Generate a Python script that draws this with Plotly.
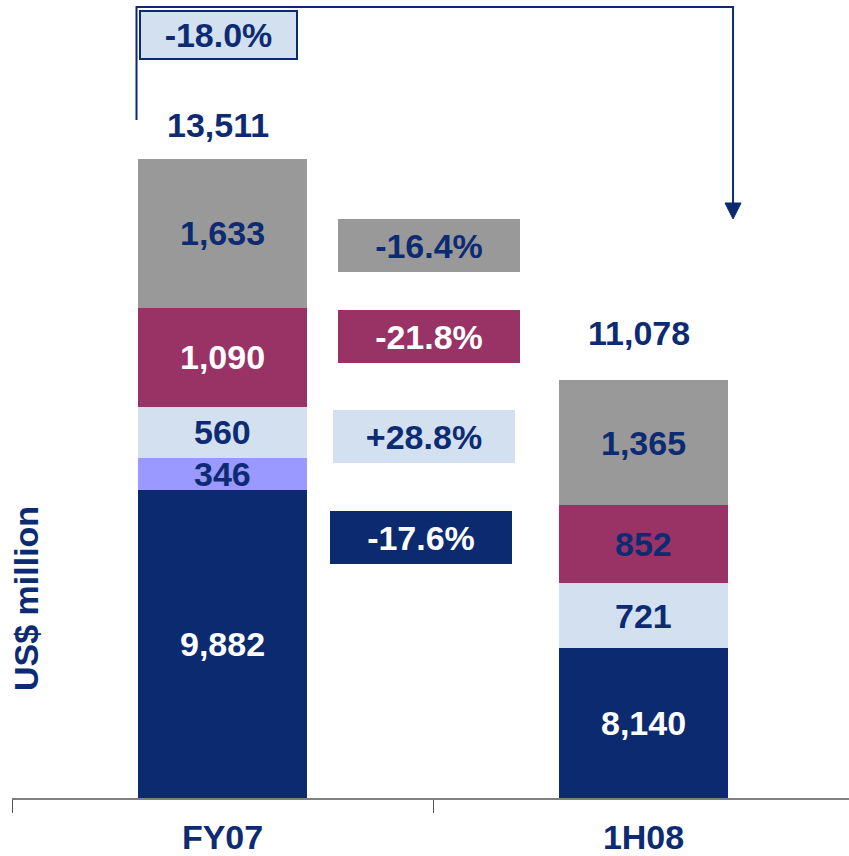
import plotly.graph_objects as go

# ---------------- data ----------------
categories = ["FY07", "1H08"]
navy_vals = [9882, 8140]
lavender_vals = [346, None]
lightblue_vals = [560, 721]
maroon_vals = [1090, 852]
gray_vals = [1633, 1365]
totals = [13511, 11078]
change_labels = ["-16.4%", "-21.8%", "+28.8%", "-17.6%"]
total_change_label = "-18.0%"
y_axis_title = "US$ million"

# ---------------- styles ----------------
NAVY = "#0B2A70"
TXT = "#0D2B72"
LAV = "#9999FF"
LBLUE = "#D3E0F0"
MAROON = "#993366"
GRAY = "#999999"
FONT = "Liberation Sans, Arial, sans-serif"
FS = 34

Y0 = 6500            # truncated axis start
SCALE = 0.0912       # px per unit
PLOT_H = 798
Y_TOP = Y0 + PLOT_H / SCALE
CAT_W = 421          # px per category
BAR_W = 0.4

def py(p):           # pixel row -> paper y
    return (PLOT_H - p) / PLOT_H

def px(p):           # pixel column -> x data
    return (p - 12) / CAT_W - 0.5

series = [
    (navy_vals, NAVY, ["white", "white"]),
    (lavender_vals, LAV, [TXT, TXT]),
    (lightblue_vals, LBLUE, [TXT, TXT]),
    (maroon_vals, MAROON, ["white", TXT]),
    (gray_vals, GRAY, [TXT, TXT]),
]

fig = go.Figure()
for vals, col, _ in series:
    fig.add_trace(go.Bar(
        x=categories, y=vals, width=BAR_W,
        marker=dict(color=col, line=dict(width=0)),
        showlegend=False, hoverinfo="skip",
    ))

annotations = []
# segment labels
for i, cat in enumerate(categories):
    base = 0
    for vals, col, tcols in series:
        v = vals[i]
        if v is None:
            continue
        lo = max(base, Y0)
        hi = base + v
        annotations.append(dict(
            x=cat, y=(lo + hi) / 2, xref="x", yref="y", text=f"{v:,}",
            showarrow=False, font=dict(family=FONT, size=FS, color=tcols[i], weight="bold"),
        ))
        base = hi

# total labels
total_shift = [34, 47]
for i, cat in enumerate(categories):
    annotations.append(dict(
        x=i, y=totals[i], xref="x", yref="y", text=f"{totals[i]:,}",
        showarrow=False, yshift=total_shift[i], xshift=-5,
        font=dict(family=FONT, size=FS, color=TXT, weight="bold"),
    ))

# change boxes
box_specs = [  # (center px x, center px y, bg, text color)
    (429, 245.5, GRAY, TXT),
    (429, 336, MAROON, "white"),
    (424, 436.5, LBLUE, TXT),
    (421, 537.5, NAVY, "white"),
]
for lab, (cx, cy, bg, tc) in zip(change_labels, box_specs):
    annotations.append(dict(
        x=px(cx), y=py(cy), xref="x", yref="paper", text=lab,
        showarrow=False, width=182, height=53, bgcolor=bg,
        borderpad=0, borderwidth=0, align="center", valign="middle",
        xanchor="center", yanchor="middle",
        font=dict(family=FONT, size=FS, color=tc, weight="bold"),
    ))

# total change box
annotations.append(dict(
    x=px(218.5), y=py(35), xref="x", yref="paper", text=total_change_label,
    showarrow=False, width=155, height=46, bgcolor=LBLUE,
    bordercolor=NAVY, borderwidth=2, borderpad=0,
    align="center", valign="middle", xanchor="center", yanchor="middle",
    font=dict(family=FONT, size=FS, color=TXT, weight="bold"),
))

# y title
annotations.append(dict(
    x=(26 - 12) / 837, y=py(599), xref="paper", yref="paper", text=y_axis_title,
    showarrow=False, textangle=-90, xanchor="center", yanchor="middle",
    font=dict(family=FONT, size=FS, color=TXT, weight="bold"),
))

# bracket + arrow
xl, xr = px(136.5), px(733)
shapes = [
    dict(type="path", xref="x", yref="paper",
         path=f"M {xl},{py(120)} L {xl},{py(7)} L {xr},{py(7)} L {xr},{py(205)}",
         line=dict(color=NAVY, width=2)),
    dict(type="path", xref="x", yref="paper",
         path=f"M {px(725)},{py(203)} L {px(741)},{py(203)} L {xr},{py(219)} Z",
         fillcolor=NAVY, line=dict(color=NAVY, width=1)),
]

fig.update_layout(
    width=849, height=856,
    margin=dict(l=12, r=0, t=0, b=58),
    barmode="stack", bargap=0,
    plot_bgcolor="white", paper_bgcolor="white",
    annotations=annotations, shapes=shapes,
    xaxis=dict(
        type="category", range=[-0.5, 1.488],
        showline=True, linecolor="#808080", linewidth=1.5,
        ticks="outside", tickson="boundaries", ticklen=13, tickcolor="#555555",
        ticklabelstandoff=8,
        tickfont=dict(family=FONT, size=34, color=TXT, weight="bold"),
        showgrid=False, zeroline=False,
    ),
    yaxis=dict(
        range=[Y0, Y_TOP], visible=False, showgrid=False, zeroline=False,
    ),
)

fig.write_html(
    "out.html",
    config={"displayModeBar": False},
    post_script="document.body.style.margin='0px';document.body.style.overflow='hidden';",
)
